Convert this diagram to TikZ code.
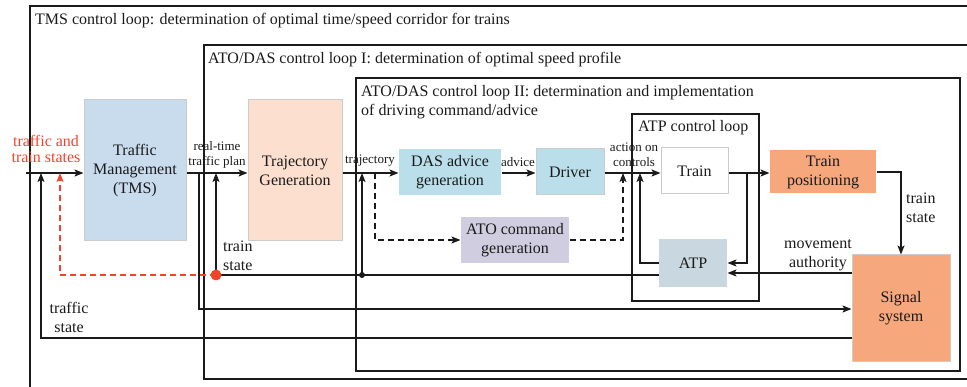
\documentclass[tikz,border=0pt]{standalone}
\usepackage{fontspec}
\setmainfont{Liberation Serif}
\usetikzlibrary{arrows.meta}
\definecolor{tmsblue}{HTML}{C9DCEE}
\definecolor{trajpeach}{HTML}{FCDFCF}
\definecolor{dascyan}{HTML}{BADFEA}
\definecolor{atolav}{HTML}{D1CDE0}
\definecolor{atpblue}{HTML}{C9D7E1}
\definecolor{salmon}{HTML}{F6A77B}
\definecolor{boxgray}{HTML}{CCCCCC}
\definecolor{linec}{HTML}{1A1A1A}
\definecolor{redc}{HTML}{F0452B}
\newcommand{\bigf}{\fontsize{16}{19}\selectfont}
\newcommand{\smallf}{\fontsize{13}{15.5}\selectfont}
\begin{document}
\begin{tikzpicture}[x=1pt,y=-1pt,
  blk/.style={draw=boxgray, line width=1pt, inner sep=0pt, align=center, font=\bigf, text=linec},
  frame/.style={draw=linec, line width=1.2pt},
  conn/.style={draw=linec, line width=1.1pt},
  arr/.style={conn, -{Stealth[length=9pt,width=7pt,inset=2pt]}},
  darr/.style={arr, dash pattern=on 6pt off 4pt},
  redarr/.style={draw=redc, line width=1.1pt, dash pattern=on 6pt off 4pt, -{Stealth[length=9pt,width=7pt,inset=2pt]}},
  lbl/.style={font=\bigf, text=linec, inner sep=0pt, align=center},
  slbl/.style={font=\smallf, text=linec, inner sep=0pt, align=center},
  ttl/.style={font=\bigf, text=linec, inner sep=0pt, align=left, anchor=west}
]
\useasboundingbox (0,0) rectangle (967,387);
\clip (0,0) rectangle (967,387);

% frames
\draw[frame] (30,6) rectangle (990,400);
\draw[frame] (204,45) rectangle (990,379);
\draw[frame] (356,78) rectangle (960,371);
\draw[frame] (632,114) rectangle (759,301);

\node[ttl] (t1) at (35,21) {TMS control loop: determination of optimal time/speed corridor for trains};
\node[ttl] (t2) at (208,60) {ATO/DAS control loop I: determination of optimal speed profile};
\node[ttl] (t3) at (361,102.5) {ATO/DAS control loop II: determination and implementation\\of driving command/advice};
\node[ttl] (t4) at (638,128) {ATP control loop};

% blocks
\node[blk, fill=tmsblue, minimum width=102pt, minimum height=141pt] (tms) at (135,170.5) {Traffic\\Management\\(TMS)};
\node[blk, fill=trajpeach, minimum width=94pt, minimum height=141pt] (traj) at (295,170.5) {Trajectory\\Generation};
\node[blk, draw=none, fill=dascyan, minimum width=102pt, minimum height=46pt] (das) at (450,172) {DAS advice\\generation};
\node[blk, fill=dascyan, minimum width=68pt, minimum height=46pt] (drv) at (570,172) {Driver};
\node[blk, draw=none, fill=atolav, minimum width=108pt, minimum height=46pt] (ato) at (515,240) {ATO command\\generation};
\node[blk, fill=white, minimum width=67pt, minimum height=46pt] (train) at (694.5,171) {Train};
\node[blk, draw=none, fill=atpblue, minimum width=68pt, minimum height=48pt] (atp) at (693,263) {ATP};
\node[blk, draw=none, fill=salmon, minimum width=106pt, minimum height=43pt] (tpos) at (823,172) {Train\\positioning};
\node[blk, fill=salmon, minimum width=98pt, minimum height=107pt] (sig) at (901,308.5) {Signal\\system};

% coordinates
\coordinate (ml) at (0,173);
\coordinate (in) at (26,173);
\coordinate (ts) at (0,275);
\coordinate (rdot) at (216,275);
\coordinate (bdot) at (362,275);
\coordinate (sp) at (199,173);
\coordinate (spb) at (199,309);
\coordinate (trs) at (41,338);
\coordinate (trsup) at (41,173);
\coordinate (redc1) at (60,275);
\coordinate (redc2) at (60,173);
\coordinate (dsplit) at (375,173);
\coordinate (dj) at (623,173);
\coordinate (aj) at (640,173);
\coordinate (tj) at (747,173);

% main line
\draw[arr] (in) -- (tms.west |- ml);
\draw[arr] (tms.east |- ml) -- (traj.west |- ml);
\draw[arr] (traj.east |- ml) -- (das.west |- ml);
\draw[arr] (das.east |- ml) -- (drv.west |- ml);
\draw[arr] (drv.east |- ml) -- (train.west |- ml);
\draw[arr] (train.east |- ml) -- (tpos.west |- ml);
\draw[arr] (tpos.east) -| (sig.north);

% labels on main line
\node[slbl] (l1) at (217,155) {real-time\\traffic plan};
\node[slbl] (l2) at (370,161) {trajectory};
\node[slbl] (l3) at (518,162) {advice};
\node[slbl] (l4) at (634,155) {action on\\controls};
\node[lbl, align=left, anchor=west] (l5) at (906,208) {train\\state};

% ATP loop
\draw[arr] (tj) -- (tj |- atp.east) -- (atp.east);
\draw[arr] (atp.west) -| (aj);
\draw[arr] (sig.west |- 0,273) -- (atp.east |- 0,273);
\node[lbl] (l6) at (818,255) {movement\\authority};

% dashed ATO path
\draw[darr] (dsplit) |- (ato.west);
\draw[darr] (ato.east) -| (dj);

% train state line
\draw[conn] (atp.west |- ts) -- (rdot);
\draw[arr] (bdot) -- (bdot |- ml);
\draw[arr] (rdot) -- (rdot |- ml);
\draw[redarr] (rdot) -- (redc1) -- (redc2);
\fill[linec] (bdot) circle (3pt);
\fill[redc] (rdot) circle (5.5pt);
\node[lbl, align=left, anchor=west] (l7) at (223,256) {train\\state};
\node[font=\bigf, text=redc, inner sep=0pt, align=center] (l8) at (46,149) {traffic and\\[-3pt]train states};

% real-time plan to signal system
\draw[arr] (sp) -- (spb) -- (sig.west |- spb);

% traffic state
\draw[arr] (sig.west |- trs) -- (trs) -- (trsup);
\node[lbl] (l9) at (69,317.5) {traffic\\state};
\end{tikzpicture}
\end{document}
